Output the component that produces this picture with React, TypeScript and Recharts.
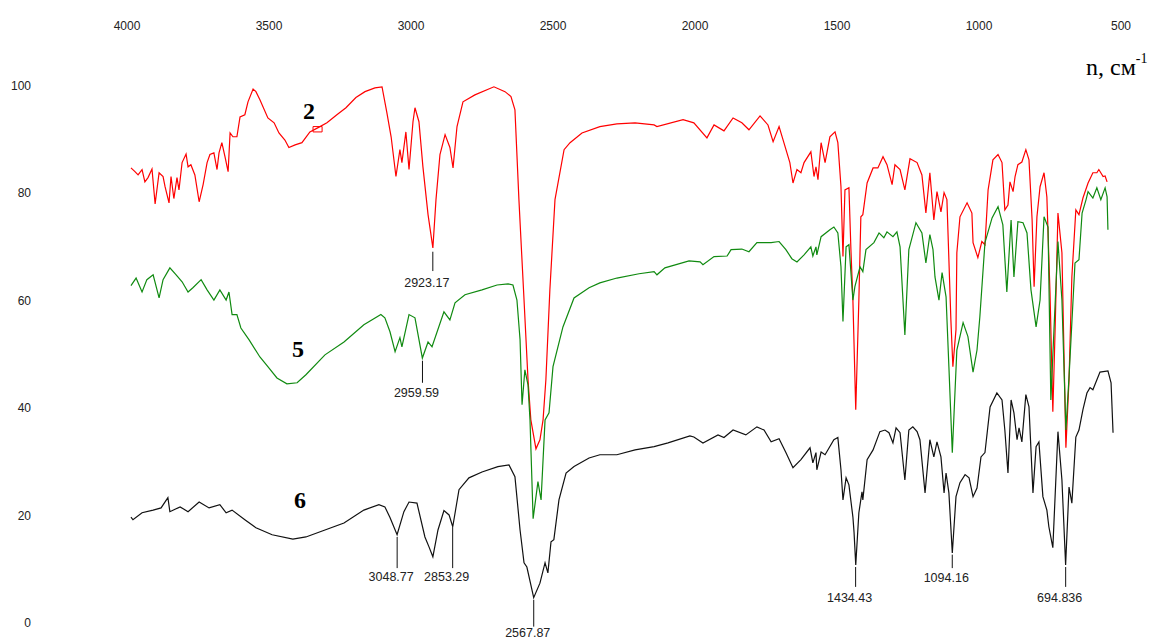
import React from 'react';
import { ComposedChart, Line, XAxis, YAxis, Scatter, ReferenceLine, ReferenceArea } from 'recharts';

// x axis: wavenumber (cm^-1), y axis: transmittance (%)
const X_TICKS = [4000, 3500, 3000, 2500, 2000, 1500, 1000, 500];
const Y_TICKS = [0, 20, 40, 60, 80, 100];

// Spectrum "2" (red): [wavenumber, value]
const SPECTRUM_2: [number, number][] = [
  [3986,84.7],[3972,84.0],[3961,83.4],[3947,84.4],[3937,82.1],[3926,82.9],[3912,84.5],[3901,78.0],[3887,83.8],[3873,83.1],
  [3866,81.2],[3852,78.2],[3845,83.1],[3835,79.0],[3824,82.9],[3817,80.6],[3806,85.7],[3792,87.3],[3785,84.9],[3775,85.3],
  [3761,83.4],[3746,78.4],[3732,81.6],[3718,85.7],[3708,87.2],[3694,87.5],[3683,84.4],[3676,87.5],[3666,89.4],[3655,86.8],
  [3644,84.0],[3637,91.2],[3627,90.5],[3613,90.5],[3602,94.2],[3585,94.6],[3574,97.0],[3556,99.4],[3546,98.9],[3532,97.4],
  [3504,94.0],[3482,93.1],[3465,91.2],[3444,89.9],[3430,88.5],[3408,89.0],[3384,89.4],[3356,91.4],[3327,92.2],[3296,93.1],
  [3261,94.6],[3229,95.9],[3194,97.8],[3162,98.9],[3127,99.6],[3102,99.8],[3085,95.0],[3070,90.5],[3053,83.1],[3039,88.1],
  [3032,85.7],[3018,91.4],[3007,84.4],[2993,93.3],[2986,95.9],[2972,93.3],[2958,84.9],[2940,76.0],[2923,69.8],[2912,78.8],
  [2898,87.2],[2880,90.9],[2863,88.5],[2852,84.7],[2838,92.4],[2817,97.0],[2775,98.3],[2708,99.8],[2669,98.9],[2648,98.0],
  [2634,95.5],[2620,78.8],[2602,60.1],[2588,45.3],[2578,37.8],[2560,32.4],[2546,34.1],[2535,37.8],[2525,45.3],[2511,62.0],
  [2493,78.8],[2461,88.1],[2440,89.4],[2398,91.2],[2335,92.4],[2275,92.9],[2211,93.1],[2144,92.7],[2134,92.4],[2042,93.7],
  [2004,93.1],[1958,90.3],[1933,92.7],[1898,91.6],[1866,94.0],[1835,93.1],[1810,91.8],[1771,94.4],[1743,92.7],[1725,89.6],
  [1704,92.4],[1687,89.4],[1666,85.7],[1655,81.9],[1641,84.4],[1627,83.8],[1616,85.7],[1592,87.7],[1581,83.1],[1574,84.9],
  [1567,82.5],[1556,89.4],[1542,85.7],[1525,90.5],[1507,91.4],[1497,89.4],[1486,81.2],[1479,68.2],[1472,80.6],[1458,81.0],
  [1451,69.5],[1444,60.1],[1434,39.7],[1423,60.1],[1416,75.6],[1409,76.0],[1394,81.9],[1373,84.7],[1356,84.7],[1338,86.8],
  [1324,85.3],[1306,81.6],[1296,85.3],[1278,84.4],[1261,80.6],[1243,86.4],[1218,85.7],[1201,83.4],[1187,76.3],[1173,83.8],
  [1159,75.0],[1148,80.3],[1134,76.5],[1123,80.1],[1113,78.8],[1099,56.4],[1092,47.7],[1081,54.6],[1078,68.9],[1067,75.6],
  [1042,78.2],[1025,76.3],[1021,70.8],[1004,68.0],[990,71.0],[979,70.4],[968,80.6],[951,86.2],[933,87.2],[919,85.7],
  [909,76.9],[898,77.8],[891,82.1],[880,80.3],[873,83.1],[863,85.3],[849,85.8],[835,88.1],[824,86.2],[813,75.0],
  [806,62.6],[796,75.6],[785,81.2],[771,83.8],[761,79.3],[750,61.5],[740,39.3],[732,54.6],[722,76.3],[708,68.9],
  [694,32.6],[683,45.3],[673,64.4],[659,76.9],[648,76.0],[634,79.1],[616,81.9],[599,83.8],[585,83.8],[578,84.4],
  [563,83.1],[556,83.2],[549,82.1],
];

// Spectrum "5" (green)
const SPECTRUM_5: [number, number][] = [
  [3986,62.8],[3968,64.2],[3947,61.6],[3930,63.9],[3908,64.8],[3887,60.5],[3873,63.9],[3849,66.1],[3827,64.8],[3806,63.5],
  [3785,61.6],[3768,62.4],[3739,63.9],[3718,62.0],[3694,60.1],[3673,62.0],[3651,60.1],[3641,61.6],[3630,57.4],[3613,57.4],
  [3599,54.9],[3570,52.7],[3532,49.5],[3504,47.7],[3472,45.6],[3437,44.5],[3401,44.7],[3370,46.2],[3303,49.9],[3236,52.3],
  [3166,55.5],[3106,57.4],[3092,56.8],[3074,54.2],[3056,50.5],[3039,53.1],[3032,51.4],[3007,57.4],[2986,56.8],[2960,49.3],
  [2940,52.3],[2926,51.4],[2884,57.9],[2863,56.4],[2845,59.6],[2810,61.1],[2750,62.0],[2697,62.9],[2658,63.1],[2641,62.9],
  [2627,60.1],[2616,52.7],[2609,40.6],[2599,47.1],[2588,44.3],[2581,37.8],[2570,19.4],[2553,26.3],[2542,22.9],[2528,37.8],
  [2514,39.1],[2500,47.7],[2465,55.1],[2426,60.5],[2373,62.4],[2335,63.3],[2275,64.2],[2197,65.0],[2144,65.4],[2134,64.8],
  [2106,66.1],[2021,67.4],[1982,67.2],[1972,66.7],[1933,68.2],[1887,68.3],[1873,69.5],[1835,69.6],[1810,69.1],[1782,70.8],
  [1732,70.8],[1704,71.0],[1680,69.5],[1659,67.8],[1641,67.2],[1616,68.5],[1592,70.0],[1585,68.3],[1574,70.0],[1571,68.5],
  [1556,71.9],[1525,73.2],[1511,73.7],[1497,72.6],[1486,66.3],[1479,56.1],[1468,70.0],[1458,70.4],[1444,60.1],[1437,62.6],
  [1419,66.3],[1409,65.4],[1398,69.5],[1370,70.8],[1352,72.6],[1335,71.7],[1324,72.8],[1303,71.9],[1289,72.8],[1278,70.0],
  [1261,53.6],[1247,69.5],[1222,74.5],[1201,72.6],[1187,67.0],[1173,72.3],[1162,69.5],[1155,64.4],[1141,60.1],[1130,65.2],
  [1116,60.7],[1106,47.7],[1094,31.7],[1078,50.8],[1056,55.9],[1039,53.3],[1021,46.7],[1007,50.8],[997,57.0],[979,70.8],
  [954,75.4],[933,77.5],[916,74.1],[902,61.6],[887,75.0],[877,64.4],[863,74.7],[845,74.5],[831,72.6],[817,62.0],
  [799,55.1],[785,60.1],[771,75.6],[757,73.7],[747,41.5],[736,54.6],[722,71.0],[708,60.1],[694,35.9],[683,45.8],
  [662,67.0],[648,67.6],[637,76.3],[623,78.8],[616,80.3],[599,79.1],[585,81.0],[571,78.8],[556,81.0],[549,79.3],
  [546,73.2],
];

// Spectrum "6" (black)
const SPECTRUM_6: [number, number][] = [
  [3986,19.7],[3979,19.2],[3947,20.5],[3908,21.0],[3880,21.4],[3856,23.3],[3849,20.7],[3813,21.6],[3785,20.7],[3746,22.5],
  [3711,21.4],[3673,22.0],[3651,20.5],[3630,21.0],[3585,19.2],[3546,17.7],[3489,16.4],[3416,15.6],[3370,16.0],[3303,17.3],
  [3236,18.6],[3166,21.0],[3113,22.0],[3092,21.6],[3074,19.6],[3049,16.4],[3025,20.7],[3007,22.5],[2979,22.3],[2951,16.0],
  [2937,14.2],[2923,12.3],[2905,17.3],[2884,20.9],[2866,20.1],[2853,17.9],[2831,24.8],[2796,27.0],[2750,28.1],[2694,29.1],
  [2655,29.4],[2634,27.2],[2616,17.3],[2602,11.2],[2592,10.4],[2568,4.7],[2546,7.4],[2528,11.2],[2518,9.3],[2507,15.1],
  [2497,15.5],[2479,22.9],[2454,27.9],[2426,29.1],[2373,30.7],[2335,31.3],[2275,31.3],[2211,32.2],[2144,32.8],[2095,33.5],
  [2018,34.8],[2004,34.6],[1972,33.5],[1919,35.0],[1898,34.5],[1866,35.9],[1821,35.0],[1782,36.5],[1757,35.9],[1732,33.7],
  [1704,34.3],[1680,31.7],[1655,28.9],[1627,30.4],[1595,32.6],[1585,29.8],[1574,31.7],[1571,28.5],[1556,31.8],[1542,31.3],
  [1511,34.1],[1497,34.5],[1486,28.5],[1479,22.9],[1468,27.0],[1458,25.7],[1444,19.7],[1440,16.9],[1434,10.8],[1423,20.5],
  [1412,24.4],[1409,22.9],[1394,30.4],[1373,32.2],[1349,35.6],[1331,35.9],[1317,35.4],[1303,33.5],[1292,36.3],[1278,35.4],
  [1261,26.6],[1247,35.9],[1233,36.5],[1218,35.6],[1208,34.1],[1190,24.2],[1173,34.1],[1159,30.9],[1148,33.7],[1134,30.9],
  [1123,24.2],[1116,27.9],[1106,24.2],[1094,13.0],[1081,23.5],[1067,26.1],[1049,27.6],[1035,27.0],[1021,23.5],[1007,25.1],
  [993,30.9],[979,31.7],[961,40.2],[937,42.8],[919,41.5],[909,35.9],[898,27.9],[887,41.5],[877,39.1],[866,34.1],
  [859,36.3],[849,33.7],[835,42.5],[824,40.2],[810,24.2],[799,32.8],[789,33.7],[775,23.5],[761,21.0],[754,17.9],
  [740,14.0],[722,35.6],[708,26.6],[695,10.8],[683,25.3],[673,22.3],[659,34.6],[648,35.9],[634,39.7],[620,42.8],
  [609,43.8],[599,43.4],[574,46.7],[546,46.9],[535,44.7],[528,35.4],
];

// Peak annotations: wavenumber, tick top value, tick bottom value, text value, text
const PEAK_WN = [2923.17, 2959.59, 3048.77, 2853.29, 2567.87, 1434.43, 1094.16, 694.836];
const PEAK_TOP = [69.1, 48.8, 16.0, 17.9, 4.3, 10.4, 12.7, 10.4];
const PEAK_BOTTOM = [65.5, 44.7, 10.2, 10.2, -0.7, 6.7, 10.2, 6.7];
const PEAK_TEXT_Y = [63.3, 42.8, 8.6, 8.6, -1.7, 4.8, 8.4, 4.8];
const PEAK_LABELS = ['2923.17', '2959.59', '3048.77', '2853.29', '2567.87', '1434.43', '1094.16', '694.836'];

// Curve number labels
const CURVE_LABEL_WN = [3359, 3398, 3391];
const CURVE_LABEL_Y = [95.3, 51.0, 22.9];
const CURVE_LABELS = ['2', '5', '6'];

// Small cursor box on curve 2: [wn1, wn2, y1, y2]
const CURSOR_BOX = [3345, 3313, 91.4, 92.4];

const toPts = (arr: [number, number][]) => arr.map(([wn, t]) => ({ wn, t }));
const d2 = toPts(SPECTRUM_2);
const d5 = toPts(SPECTRUM_5);
const d6 = toPts(SPECTRUM_6);
const peakText = PEAK_WN.map((wn, i) => ({ wn, t: PEAK_TEXT_Y[i], label: PEAK_LABELS[i] }));
const curveText = CURVE_LABEL_WN.map((wn, i) => ({ wn, t: CURVE_LABEL_Y[i], label: CURVE_LABELS[i] }));

const SANS = '"Liberation Sans", Arial, sans-serif';
const SERIF = '"Liberation Serif", "Times New Roman", serif';

const PeakLabel = (props: any) => {
  const { cx, cy, payload } = props;
  if (cx == null || cy == null) return null;
  return (
    <text x={cx - 6} y={cy} dy="0.36em" textAnchor="middle" fontFamily={SANS} fontSize={12.5} fill="#222">
      {payload.label}
    </text>
  );
};

const CurveLabel = (props: any) => {
  const { cx, cy, payload } = props;
  if (cx == null || cy == null) return null;
  return (
    <text x={cx} y={cy} dy="0.34em" textAnchor="middle" fontFamily={SERIF} fontWeight="bold" fontSize={24} fill="#000">
      {payload.label}
    </text>
  );
};

const AxisTitle = () => (
  <text x={1086} y={75} fontFamily={SERIF} fontSize={24} fill="#000">
    n, см<tspan dy={-12} fontSize={14}>-1</tspan>
  </text>
);

export default function App() {
  return (
    <div style={{ position: 'absolute', left: 0, top: 0, width: 1157, height: 639, background: '#fff' }}>
      <ComposedChart width={1157} height={639} margin={{ top: 0, right: 36, bottom: 0, left: 0 }}>
        <XAxis
          dataKey="wn"
          type="number"
          domain={[500, 4000]}
          reversed
          orientation="top"
          ticks={X_TICKS}
          interval={0}
          axisLine={false}
          tickLine={false}
          tickSize={0}
          tickMargin={45}
          height={75}
          tick={{ fill: '#222', fontSize: 12, fontFamily: SANS }}
          label={{ content: () => <AxisTitle /> }}
        />
        <YAxis
          type="number"
          domain={[-3, 102]}
          ticks={Y_TICKS}
          interval={0}
          axisLine={false}
          tickLine={false}
          tickSize={0}
          tickMargin={96}
          width={127}
          tick={{ fill: '#222', fontSize: 12, fontFamily: SANS }}
        />
        <Line data={d2} dataKey="t" type="linear" stroke="#ff0000" strokeWidth={1.2} dot={false} activeDot={false} isAnimationActive={false} />
        <Line data={d5} dataKey="t" type="linear" stroke="#108a10" strokeWidth={1.2} dot={false} activeDot={false} isAnimationActive={false} />
        <Line data={d6} dataKey="t" type="linear" stroke="#111111" strokeWidth={1.2} dot={false} activeDot={false} isAnimationActive={false} />
        <ReferenceArea
          x1={CURSOR_BOX[0]}
          x2={CURSOR_BOX[1]}
          y1={CURSOR_BOX[2]}
          y2={CURSOR_BOX[3]}
          fill="none"
          stroke="#ff0000"
          strokeWidth={1}
          ifOverflow="visible"
        />
        {PEAK_WN.map((wn, i) => (
          <ReferenceLine
            key={PEAK_LABELS[i]}
            segment={[{ x: wn, y: PEAK_TOP[i] }, { x: wn, y: PEAK_BOTTOM[i] }]}
            stroke="#111"
            strokeWidth={1}
            ifOverflow="visible"
          />
        ))}
        <Scatter data={peakText} dataKey="t" shape={PeakLabel} isAnimationActive={false} />
        <Scatter data={curveText} dataKey="t" shape={CurveLabel} isAnimationActive={false} />
      </ComposedChart>
    </div>
  );
}
